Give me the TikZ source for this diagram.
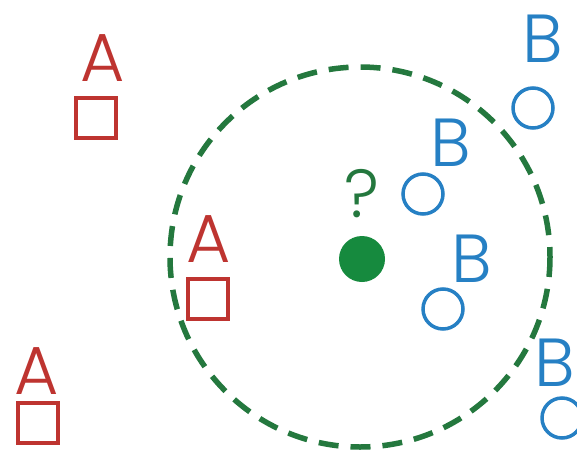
\documentclass[tikz,border=0pt]{standalone}
\usepackage{fontspec}
\setmainfont{Poppins}[UprightFont=* Light]
\usetikzlibrary{positioning}
\definecolor{classA}{RGB}{190,52,48}
\definecolor{classB}{RGB}{38,128,196}
\definecolor{ringgreen}{RGB}{36,120,62}
\definecolor{querygreen}{RGB}{22,138,62}
\begin{document}
\begin{tikzpicture}[x=1pt, y=-1pt,
    sqA/.style={draw=classA, line width=4pt, minimum size=40pt, inner sep=0pt},
    cirB/.style={circle, draw=classB, line width=3.5pt, minimum size=40pt, inner sep=0pt},
    lbl/.style={inner sep=0pt, anchor=south, font=\fontsize{68}{68}\selectfont},
    lblA/.style={lbl, text=classA},
    lblB/.style={lbl, text=classB}]
    \clip (0,0) rectangle (577,452);
    \fill[white] (0,0) rectangle (577,452);
    % neighbourhood ring and query point
    \draw[ringgreen, line width=5.5pt, dash pattern=on 20pt off 12pt] (360,257) circle[radius=190];
    \node[circle, fill=querygreen, minimum size=46pt, inner sep=0pt] (query) at (362,259) {};
    \node[lbl, text=ringgreen] (qmark) at (362,218) {?};
    % class A points
    \node[sqA] (a1) at (96,118) {};
    \node[sqA] (a2) at (208,299) {};
    \node[sqA] (a3) at (38,423) {};
    \node[lblA] (la1) at (103,82) {A};
    \node[lblA] (la2) at (209,263) {A};
    \node[lblA] (la3) at (37,395) {A};
    % class B points
    \node[cirB] (b1) at (533,108) {};
    \node[cirB] (b2) at (423,194) {};
    \node[cirB] (b3) at (443,309) {};
    \node[cirB] (b4) at (562,418) {};
    \node[lblB] (lb1) at (543,63) {B};
    \node[lblB] (lb2) at (451,167) {B};
    \node[lblB] (lb3) at (472,283) {B};
    \node[lblB] (lb4) at (555,387) {B};
\end{tikzpicture}
\end{document}
